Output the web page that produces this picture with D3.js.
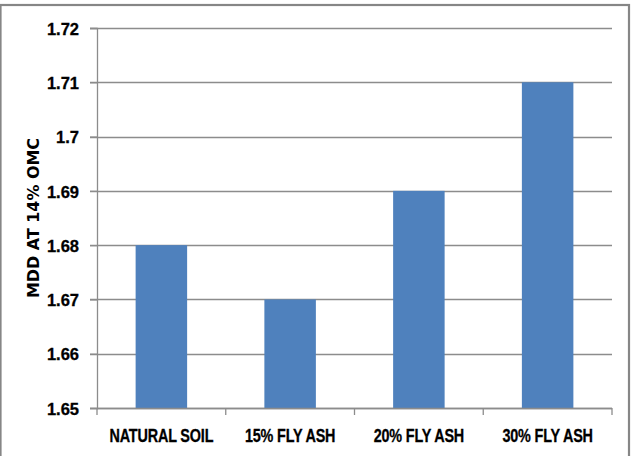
<!DOCTYPE html>
<html>
<head>
<meta charset="utf-8">
<script src="https://cdn.jsdelivr.net/npm/d3@7"></script>
<style>
  body { margin: 0; background: #fff; }
  svg { display: block; }
</style>
</head>
<body>
<div id="chart"></div>
<script>
// data
var categories = ["NATURAL SOIL", "15% FLY ASH", "20% FLY ASH", "30% FLY ASH"];
var mddValues = [1.68, 1.67, 1.69, 1.71];
var yTicks = [1.65, 1.66, 1.67, 1.68, 1.69, 1.7, 1.71, 1.72];

var W = 633, H = 456;
var margin = { top: 28, right: 21, bottom: 48, left: 97 },
    width = W - margin.left - margin.right,
    height = H - margin.top - margin.bottom;

var svg = d3.select("#chart").append("svg")
    .attr("width", W)
    .attr("height", H);

// outer frame (bottom edge falls off the picture)
svg.append("rect")
    .attr("x", 0.5)
    .attr("y", 5)
    .attr("width", 628.5)
    .attr("height", 460)
    .attr("fill", "#fff")
    .attr("stroke", "#868686")
    .attr("stroke-width", 2.2);

var g = svg.append("g")
    .attr("transform", "translate(" + margin.left + "," + margin.top + ")");

var x = d3.scaleBand()
    .domain(categories)
    .range([0, width])
    .paddingInner(0.6)
    .paddingOuter(0.3);

var y = d3.scaleLinear()
    .domain([1.65, 1.72])
    .range([height, 0]);

// gridlines
g.selectAll(".grid")
    .data(yTicks)
    .enter().append("line")
    .attr("class", "grid")
    .attr("x1", -7)
    .attr("x2", width)
    .attr("y1", function (d) { return Math.round(y(d)) + 0.5; })
    .attr("y2", function (d) { return Math.round(y(d)) + 0.5; })
    .attr("stroke", "#8c8c8c")
    .attr("stroke-width", 1.3);

// bars
g.selectAll(".bar")
    .data(mddValues)
    .enter().append("rect")
    .attr("class", "bar")
    .attr("x", function (d, i) { return x(categories[i]); })
    .attr("width", x.bandwidth())
    .attr("y", function (d) { return y(d); })
    .attr("height", function (d) { return height - y(d); })
    .attr("fill", "#4f81bd");

// y axis
var yAxis = g.append("g")
    .call(d3.axisLeft(y).tickValues(yTicks).tickSize(7).tickPadding(11)
        .tickFormat(function (d) { return String(+d.toFixed(2)); }));
yAxis.select(".domain").attr("stroke", "#8c8c8c").attr("stroke-width", 1.3);
yAxis.selectAll(".tick line").attr("stroke", "#8c8c8c").attr("stroke-width", 1.3);
yAxis.selectAll(".tick text")
    .attr("fill", "#000")
    .attr("stroke", "#000")
    .attr("stroke-width", 0.3)
    .attr("dy", "0.38em")
    .style("font-family", "'Liberation Sans', Arial, sans-serif")
    .style("font-weight", "bold")
    .style("font-size", "16.5px");

// x axis: ticks at band boundaries
var xAxis = g.append("g")
    .attr("transform", "translate(0," + height + ")");
xAxis.append("line")
    .attr("x1", 0).attr("x2", width)
    .attr("y1", 0.5).attr("y2", 0.5)
    .attr("stroke", "#8c8c8c").attr("stroke-width", 1.3);
var bounds = categories.map(function (c) { return x(c) - x.step() * 0.3; }).concat([width]);
xAxis.selectAll(".xtick")
    .data(bounds)
    .enter().append("line")
    .attr("x1", function (d) { return d; })
    .attr("x2", function (d) { return d; })
    .attr("y1", 0)
    .attr("y2", 7)
    .attr("stroke", "#8c8c8c")
    .attr("stroke-width", 1.3);
// condensed bold labels
xAxis.selectAll(".xlabel")
    .data(categories)
    .enter().append("text")
    .attr("transform", function (d) {
        return "translate(" + (x(d) + x.bandwidth() / 2) + ",34) scale(0.8,1)";
    })
    .attr("text-anchor", "middle")
    .attr("stroke", "#000")
    .attr("stroke-width", 0.3)
    .style("font-family", "'Liberation Sans', Arial, sans-serif")
    .style("font-weight", "bold")
    .style("font-size", "18px")
    .style("letter-spacing", "-0.2px")
    .text(function (d) { return d; });

// y axis title
svg.append("text")
    .attr("transform", "translate(39," + (margin.top + height / 2) + ") rotate(-90)")
    .attr("text-anchor", "middle")
    .attr("textLength", 160)
    .attr("lengthAdjust", "spacingAndGlyphs")
    .style("font-family", "'DejaVu Sans', sans-serif")
    .style("font-weight", "bold")
    .style("font-size", "15px")
    .text("MDD AT 14% OMC");
</script>
</body>
</html>
